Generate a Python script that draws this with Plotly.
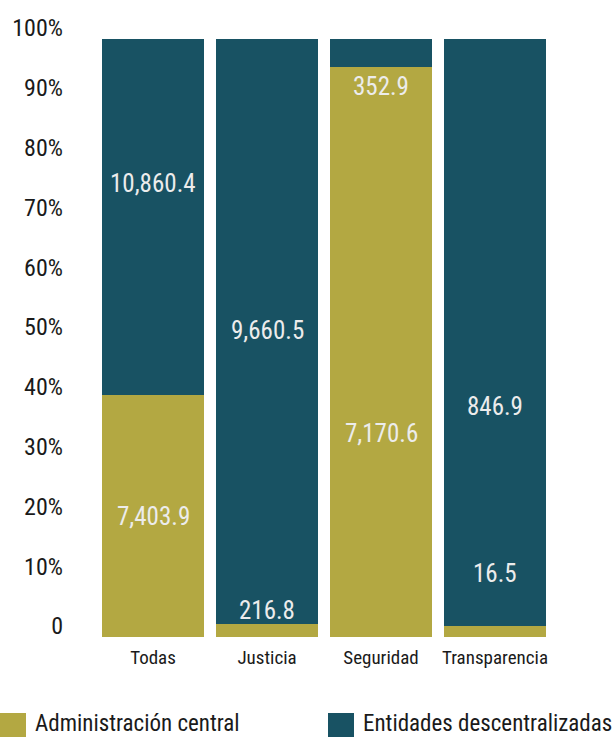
import plotly.graph_objects as go

categories = ["Todas", "Justicia", "Seguridad", "Transparencia"]
admin_central = [7403.9, 216.8, 7170.6, 16.5]
entidades = [10860.4, 9660.5, 352.9, 846.9]
admin_labels = ["7,403.9", "216.8", "7,170.6", "16.5"]
entidades_labels = ["10,860.4", "9,660.5", "352.9", "846.9"]
series_names = ["Administración central", "Entidades descentralizadas"]
# vertical position of the value labels (percent of bar height), as in the source
admin_label_y = [20.2, 4.5, 34.1, 10.7]
entidades_label_y = [75.75, 51.3, 92.1, 38.5]
tick_vals = [0, 10, 20, 30, 40, 50, 60, 70, 80, 90, 100]
tick_text = ["0", "10%", "20%", "30%", "40%", "50%", "60%", "70%", "80%", "90%", "100%"]

YELLOW = "#B3A842"
TEAL = "#185263"
COLORS = [YELLOW, TEAL]
FONT = "Roboto Condensed, Liberation Sans Narrow, sans-serif"
TXT = "#1a1a1a"

W, H = 613, 737
L, R, T, B = 96, 61, 24, 100
PW, PH = W - L - R, H - T - B


def px_x(px):
    return (px - L) / PW


def px_y(py):
    return (H - B - py) / PH


fig = go.Figure()
fig.add_trace(go.Bar(x=categories, y=admin_central, name=series_names[0],
                     marker=dict(color=YELLOW, line=dict(width=0)), hoverinfo="skip"))
fig.add_trace(go.Bar(x=categories, y=entidades, name=series_names[1],
                     marker=dict(color=TEAL, line=dict(width=0)), hoverinfo="skip"))
# invisible trace to carry the tick-label axis
fig.add_trace(go.Scatter(x=categories, y=[None] * len(categories), yaxis="y2",
                         showlegend=False, hoverinfo="skip", mode="markers"))

for cat, txt, yy in zip(categories, admin_labels, admin_label_y):
    fig.add_annotation(x=cat, y=yy, text=txt, showarrow=False, xref="x", yref="y",
                       font=dict(family=FONT, size=25, color="#ECECEC"))
for cat, txt, yy in zip(categories, entidades_labels, entidades_label_y):
    fig.add_annotation(x=cat, y=yy, text=txt, showarrow=False, xref="x", yref="y",
                       font=dict(family=FONT, size=25, color="#ECECEC"))

# legend drawn below the chart (large swatches as in the source)
legend_px = [0, 328]
for name, col, lx in zip(series_names, COLORS, legend_px):
    fig.add_shape(type="rect", xref="paper", yref="paper",
                  x0=px_x(lx), x1=px_x(lx + 26), y0=px_y(745), y1=px_y(713),
                  fillcolor=col, line=dict(width=0), layer="above")
    fig.add_annotation(xref="paper", yref="paper", x=px_x(lx + 33), y=px_y(723),
                       xanchor="left", yanchor="middle", text=name, showarrow=False,
                       font=dict(family=FONT, size=23, color=TXT))

fig.update_layout(
    width=W, height=H,
    margin=dict(l=L, r=R, t=T, b=B),
    paper_bgcolor="white", plot_bgcolor="white",
    barmode="stack", barnorm="percent", bargap=0.1,
    font=dict(family=FONT, color=TXT),
    showlegend=False,
    xaxis=dict(showgrid=False, showline=False, zeroline=False, ticks="", automargin=False,
               tickfont=dict(family=FONT, size=19, color=TXT), ticklabelstandoff=7),
    yaxis=dict(range=[0, 102.5], showgrid=False, zeroline=False, showline=False,
               showticklabels=False, ticks="", automargin=False),
    yaxis2=dict(range=[-1.84, 100.66], overlaying="y", side="left", showgrid=False,
                zeroline=False, showline=False, tickvals=tick_vals, ticktext=tick_text,
                ticks="", ticklabelstandoff=32, automargin=False,
                tickfont=dict(family=FONT, size=24, color=TXT)),
)

fig.write_html("out.html", config={"displayModeBar": False},
               post_script="document.body.style.margin='0';")
